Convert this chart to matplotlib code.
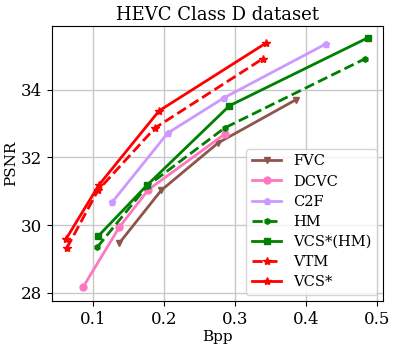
import matplotlib
matplotlib.use('Agg')
import matplotlib.pyplot as plt

plt.rcParams['font.family'] = 'DejaVu Serif'
plt.rcParams['mathtext.fontset'] = 'dejavuserif'

# (bpp, psnr) per method
fvc_bpp = [0.137, 0.196, 0.276, 0.385]
fvc_psnr = [29.47, 31.03, 32.43, 33.70]
dcvc_bpp = [0.086, 0.137, 0.178, 0.286]
dcvc_psnr = [28.17, 29.94, 31.05, 32.70]
c2f_bpp = [0.127, 0.205, 0.284, 0.428]
c2f_psnr = [30.68, 32.72, 33.76, 35.36]
hm_bpp = [0.106, 0.176, 0.285, 0.483]
hm_psnr = [29.35, 31.15, 32.87, 34.92]
vcshm_bpp = [0.107, 0.176, 0.292, 0.487]
vcshm_psnr = [29.67, 31.18, 33.53, 35.54]
vtm_bpp = [0.063, 0.107, 0.187, 0.339]
vtm_psnr = [29.32, 31.03, 32.87, 34.92]
vcs_bpp = [0.062, 0.108, 0.193, 0.344]
vcs_psnr = [29.59, 31.18, 33.38, 35.39]

fig = plt.figure(figsize=(3.96, 3.45), dpi=100)
ax = fig.add_axes([0.131, 0.128, 0.836, 0.797])

ax.plot(fvc_bpp, fvc_psnr, '-v', color='#8c564b', lw=2, ms=5, label='FVC')
ax.plot(dcvc_bpp, dcvc_psnr, '-o', color='#ff77c0', lw=2, ms=5, label='DCVC')
ax.plot(c2f_bpp, c2f_psnr, '-p', color='#cc99ff', lw=2, ms=5, label='C2F')
ax.plot(hm_bpp, hm_psnr, '--h', color='green', lw=2, ms=4, label='HM')
ax.plot(vcshm_bpp, vcshm_psnr, '-s', color='green', lw=2, ms=4, label='VCS*(HM)')
ax.plot(vtm_bpp, vtm_psnr, '--*', color='red', lw=2, ms=6, label='VTM')
ax.plot(vcs_bpp, vcs_psnr, '-*', color='red', lw=2, ms=6, label='VCS*')

ax.set_xlim(0.042, 0.508)
ax.set_ylim(27.76, 35.89)
ax.set_xticks([0.1, 0.2, 0.3, 0.4, 0.5])
ax.set_yticks([28, 30, 32, 34])
ax.tick_params(labelsize=12)
ax.grid(True, color='#c8c8c8', lw=1)
ax.set_xlabel('Bpp', fontsize=11, labelpad=2)
ax.set_ylabel('PSNR', fontsize=11, labelpad=2)
ax.set_title('HEVC Class D dataset', fontsize=13, pad=4)
ax.legend(loc='lower right', fontsize=10.5, handlelength=2.0, labelspacing=0.42,
          borderaxespad=0.4)

fig.savefig('out.png', dpi=100)
